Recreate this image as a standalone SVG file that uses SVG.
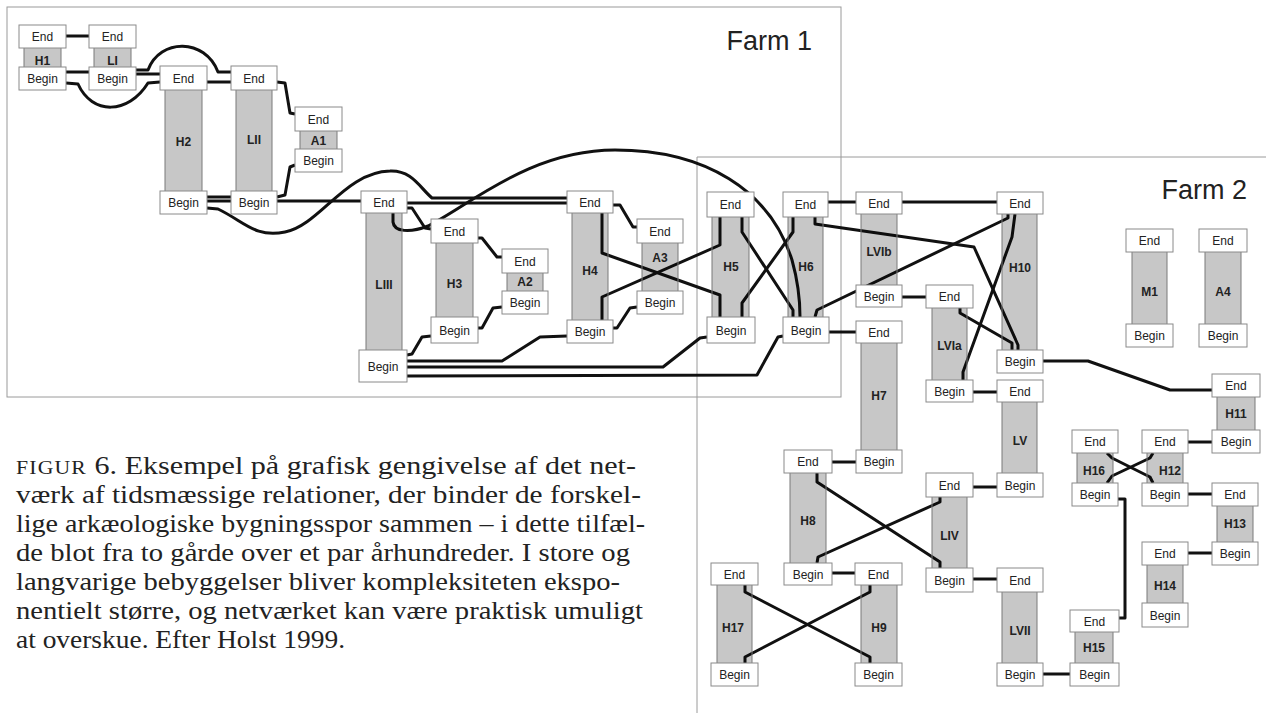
<svg xmlns="http://www.w3.org/2000/svg" width="1266" height="713" viewBox="0 0 1266 713">
<style>
.frame{fill:none;stroke:#9a9a9a;stroke-width:1}
.farm{font-family:"Liberation Sans",Arial,sans-serif;font-size:27px;fill:#222;text-anchor:end}
.bar{fill:#000;fill-opacity:.22;stroke:#7a7a7a;stroke-width:1}
.box{fill:#fff;stroke:#8a8a8a;stroke-width:1}
.ev{font-family:"Liberation Sans",Arial,sans-serif;font-size:12px;fill:#222;text-anchor:middle}
.lbl{font-family:"Liberation Sans",Arial,sans-serif;font-size:12px;font-weight:bold;fill:#222;text-anchor:middle}
.c{fill:none;stroke:#111;stroke-width:3;stroke-linejoin:round}
.cap{font-family:"Liberation Serif","Times New Roman",serif;font-size:25px;fill:#222}
.sc{font-size:18px;letter-spacing:1px}
</style>
<rect width="1266" height="713" fill="#fff"/>
<g id="frames">
<rect class="frame" x="7" y="7" width="834" height="390"/>
<path class="frame" d="M1266,157 H697 V713"/>
<text class="farm" x="812" y="50">Farm 1</text>
<text class="farm" x="1247" y="199">Farm 2</text>
</g>
<g id="connectors">
<path class="c" d="M66,36 H89"/>
<path class="c" d="M66,72 H89"/>
<path class="c" d="M66,83 L78,84 C92,115 128,115 148,83 L160,82"/>
<path class="c" d="M136,74 H160"/>
<path class="c" d="M136,70 L148,70 C160,38 205,38 218,72 L231,72"/>
<path class="c" d="M207,82 H231"/>
<path class="c" d="M277,82 L285,83 L290,113 L295,114"/>
<path class="c" d="M277,197 L285,195 L290,167 L295,165"/>
<path class="c" d="M207,197 H231"/>
<path class="c" d="M207,201 H361"/>
<path class="c" d="M207,208 L218,209 C245,222 255,238 285,232 C320,225 345,172 390,171 C412,170 420,188 432,198 L567,198"/>
<path class="c" d="M407,203 H567"/>
<path class="c" d="M407,208 L412,208 L425,228 L431,229"/>
<path class="c" d="M393,213 L393,222 C394,232 410,233 428,226 C470,205 530,150 615,150 C705,150 770,190 792,260 C799,285 800,305 800,317"/>
<path class="c" d="M478,238 L482,238 L497,257 L502,257"/>
<path class="c" d="M478,328 L482,328 L493,308 L502,307"/>
<path class="c" d="M407,355 L412,354 L422,337 L431,336"/>
<path class="c" d="M407,361 L502,361 L540,337 L567,336"/>
<path class="c" d="M407,367 L663,367 L700,338 L707,337"/>
<path class="c" d="M407,376 L757,375 L778,337 L783,336"/>
<path class="c" d="M613,205 L620,205 L633,227 L637,227"/>
<path class="c" d="M613,328 L617,328 L630,308 L637,307"/>
<path class="c" d="M602,213 V253 L720,295 V317"/>
<path class="c" d="M602,320 V297 L720,245 V217"/>
<path class="c" d="M742,217 V232 L793,310 V317"/>
<path class="c" d="M742,317 V303 L793,232 V217"/>
<path class="c" d="M828,202 H856"/>
<path class="c" d="M815,217 V224 L974,247 L1018,345 V350"/>
<path class="c" d="M815,317 L817,310 L1008,218 V214"/>
<path class="c" d="M828,332 H856"/>
<path class="c" d="M902,202 H997"/>
<path class="c" d="M902,297 H926"/>
<path class="c" d="M960,308 V313 L1012,343 V350"/>
<path class="c" d="M1015,214 L1012,237 L963,372 V380"/>
<path class="c" d="M973,392 H997"/>
<path class="c" d="M1043,361 H1088 L1170,390 H1212"/>
<path class="c" d="M832,462 H856"/>
<path class="c" d="M817,473 V482 L940,562 V568"/>
<path class="c" d="M817,563 L818,557 L940,502 V497"/>
<path class="c" d="M973,487 H997"/>
<path class="c" d="M832,573 H855"/>
<path class="c" d="M973,579 H997"/>
<path class="c" d="M745,585 V592 L870,657 V663"/>
<path class="c" d="M745,663 V657 L870,592 V585"/>
<path class="c" d="M1043,674 H1070"/>
<path class="c" d="M1118,499 H1125 V618 H1119"/>
<path class="c" d="M1107,453 L1112,458 L1150,477 L1153,483"/>
<path class="c" d="M1107,483 L1112,476 L1150,458 L1153,453"/>
<path class="c" d="M1188,442 H1212"/>
<path class="c" d="M1188,494 H1212"/>
<path class="c" d="M1188,553 H1212"/>
</g>
<g id="H1"><rect class="bar" x="24" y="47" width="37" height="21"/><rect class="box" x="19" y="25" width="47" height="23"/><text class="ev" x="42.5" y="41">End</text><rect class="box" x="19" y="67" width="47" height="23"/><text class="ev" x="42.5" y="83">Begin</text><text class="lbl" x="42.5" y="64.5">H1</text></g>
<g id="LI"><rect class="bar" x="94" y="47" width="37" height="21"/><rect class="box" x="89" y="25" width="47" height="23"/><text class="ev" x="112.5" y="41">End</text><rect class="box" x="89" y="67" width="47" height="23"/><text class="ev" x="112.5" y="83">Begin</text><text class="lbl" x="112.5" y="64.5">LI</text></g>
<g id="H2"><rect class="bar" x="165" y="89" width="37" height="103"/><rect class="box" x="160" y="66" width="47" height="24"/><text class="ev" x="183.5" y="82.5">End</text><rect class="box" x="160" y="191" width="47" height="23"/><text class="ev" x="183.5" y="207">Begin</text><text class="lbl" x="183.5" y="145.5">H2</text></g>
<g id="LII"><rect class="bar" x="236" y="89" width="36" height="103"/><rect class="box" x="231" y="66" width="46" height="24"/><text class="ev" x="254" y="82.5">End</text><rect class="box" x="231" y="191" width="46" height="23"/><text class="ev" x="254" y="207">Begin</text><text class="lbl" x="254" y="143.5">LII</text></g>
<g id="A1"><rect class="bar" x="300" y="130" width="37" height="20"/><rect class="box" x="295" y="107" width="47" height="24"/><text class="ev" x="318.5" y="123.5">End</text><rect class="box" x="295" y="149" width="47" height="23"/><text class="ev" x="318.5" y="165">Begin</text><text class="lbl" x="318.5" y="144.5">A1</text></g>
<g id="LIII"><rect class="bar" x="366" y="212" width="36" height="139"/><rect class="box" x="361" y="191" width="46" height="22"/><text class="ev" x="384" y="206.5">End</text><rect class="box" x="359" y="350" width="48" height="32"/><text class="ev" x="383" y="370.5">Begin</text><text class="lbl" x="384" y="288.5">LIII</text></g>
<g id="H3"><rect class="bar" x="436" y="242" width="37" height="76"/><rect class="box" x="431" y="219" width="47" height="24"/><text class="ev" x="454.5" y="235.5">End</text><rect class="box" x="431" y="317" width="47" height="26"/><text class="ev" x="454.5" y="334.5">Begin</text><text class="lbl" x="454.5" y="287.5">H3</text></g>
<g id="A2"><rect class="bar" x="507" y="272" width="36" height="20"/><rect class="box" x="502" y="249" width="46" height="24"/><text class="ev" x="525" y="265.5">End</text><rect class="box" x="502" y="291" width="46" height="23"/><text class="ev" x="525" y="307">Begin</text><text class="lbl" x="525" y="285.5">A2</text></g>
<g id="H4"><rect class="bar" x="572" y="212" width="36" height="109"/><rect class="box" x="567" y="191" width="46" height="22"/><text class="ev" x="590" y="206.5">End</text><rect class="box" x="567" y="320" width="46" height="23"/><text class="ev" x="590" y="336">Begin</text><text class="lbl" x="590" y="274.5">H4</text></g>
<g id="A3"><rect class="bar" x="642" y="242" width="36" height="50"/><rect class="box" x="637" y="219" width="46" height="24"/><text class="ev" x="660" y="235.5">End</text><rect class="box" x="637" y="291" width="46" height="23"/><text class="ev" x="660" y="307">Begin</text><text class="lbl" x="660" y="261.5">A3</text></g>
<g id="H5"><rect class="bar" x="712" y="216" width="37" height="102"/><rect class="box" x="707" y="192" width="47" height="25"/><text class="ev" x="730.5" y="209">End</text><rect class="box" x="707" y="317" width="48" height="26"/><text class="ev" x="731" y="334.5">Begin</text><text class="lbl" x="731" y="270.5">H5</text></g>
<g id="H6"><rect class="bar" x="788" y="216" width="35" height="102"/><rect class="box" x="783" y="192" width="45" height="25"/><text class="ev" x="805.5" y="209">End</text><rect class="box" x="783" y="317" width="46" height="26"/><text class="ev" x="806" y="334.5">Begin</text><text class="lbl" x="806" y="270.5">H6</text></g>
<g id="LVIb"><rect class="bar" x="861" y="213" width="36" height="73"/><rect class="box" x="856" y="192" width="46" height="22"/><text class="ev" x="879" y="207.5">End</text><rect class="box" x="856" y="285" width="46" height="22"/><text class="ev" x="879" y="300.5">Begin</text><text class="lbl" x="879" y="255.5">LVIb</text></g>
<g id="H7"><rect class="bar" x="861" y="342" width="36" height="109"/><rect class="box" x="856" y="321" width="46" height="22"/><text class="ev" x="879" y="336.5">End</text><rect class="box" x="856" y="450" width="46" height="23"/><text class="ev" x="879" y="466">Begin</text><text class="lbl" x="879" y="399.5">H7</text></g>
<g id="H10"><rect class="bar" x="1002" y="213" width="35" height="138"/><rect class="box" x="997" y="192" width="46" height="22"/><text class="ev" x="1020" y="207.5">End</text><rect class="box" x="997" y="350" width="46" height="23"/><text class="ev" x="1020" y="366">Begin</text><text class="lbl" x="1020" y="271.5">H10</text></g>
<g id="LVIa"><rect class="bar" x="932" y="307" width="35" height="74"/><rect class="box" x="926" y="285" width="47" height="23"/><text class="ev" x="949.5" y="301">End</text><rect class="box" x="926" y="380" width="47" height="22"/><text class="ev" x="949.5" y="395.5">Begin</text><text class="lbl" x="949.5" y="349.5">LVIa</text></g>
<g id="LV"><rect class="bar" x="1002" y="401" width="35" height="73"/><rect class="box" x="997" y="380" width="46" height="22"/><text class="ev" x="1020" y="395.5">End</text><rect class="box" x="997" y="473" width="46" height="24"/><text class="ev" x="1020" y="489.5">Begin</text><text class="lbl" x="1020" y="444.5">LV</text></g>
<g id="H8"><rect class="bar" x="790" y="472" width="36" height="92"/><rect class="box" x="784" y="450" width="48" height="23"/><text class="ev" x="808" y="466">End</text><rect class="box" x="784" y="563" width="48" height="22"/><text class="ev" x="808" y="578.5">Begin</text><text class="lbl" x="808" y="524.5">H8</text></g>
<g id="LIV"><rect class="bar" x="932" y="496" width="35" height="73"/><rect class="box" x="926" y="473" width="47" height="24"/><text class="ev" x="949.5" y="489.5">End</text><rect class="box" x="926" y="568" width="47" height="24"/><text class="ev" x="949.5" y="584.5">Begin</text><text class="lbl" x="949.5" y="539.5">LIV</text></g>
<g id="H9"><rect class="bar" x="861" y="584" width="36" height="80"/><rect class="box" x="855" y="563" width="47" height="22"/><text class="ev" x="878.5" y="578.5">End</text><rect class="box" x="855" y="663" width="47" height="23"/><text class="ev" x="878.5" y="679">Begin</text><text class="lbl" x="879" y="631.5">H9</text></g>
<g id="H17"><rect class="bar" x="717" y="584" width="35" height="80"/><rect class="box" x="711" y="563" width="47" height="22"/><text class="ev" x="734.5" y="578.5">End</text><rect class="box" x="711" y="663" width="47" height="23"/><text class="ev" x="734.5" y="679">Begin</text><text class="lbl" x="733" y="631.5">H17</text></g>
<g id="LVII"><rect class="bar" x="1002" y="591" width="35" height="73"/><rect class="box" x="997" y="568" width="46" height="24"/><text class="ev" x="1020" y="584.5">End</text><rect class="box" x="997" y="663" width="46" height="23"/><text class="ev" x="1020" y="679">Begin</text><text class="lbl" x="1020" y="634.5">LVII</text></g>
<g id="H15"><rect class="bar" x="1075" y="631" width="38" height="33"/><rect class="box" x="1070" y="610" width="49" height="22"/><text class="ev" x="1094.5" y="625.5">End</text><rect class="box" x="1070" y="663" width="49" height="23"/><text class="ev" x="1094.5" y="679">Begin</text><text class="lbl" x="1094" y="651.5">H15</text></g>
<g id="H16"><rect class="bar" x="1077" y="452" width="36" height="32"/><rect class="box" x="1072" y="430" width="46" height="23"/><text class="ev" x="1095" y="446">End</text><rect class="box" x="1072" y="483" width="46" height="23"/><text class="ev" x="1095" y="499">Begin</text><text class="lbl" x="1094" y="474.5">H16</text></g>
<g id="H12"><rect class="bar" x="1147" y="452" width="36" height="32"/><rect class="box" x="1142" y="430" width="46" height="23"/><text class="ev" x="1165" y="446">End</text><rect class="box" x="1142" y="483" width="46" height="23"/><text class="ev" x="1165" y="499">Begin</text><text class="lbl" x="1170" y="474.5">H12</text></g>
<g id="H11"><rect class="bar" x="1217" y="396" width="38" height="35"/><rect class="box" x="1212" y="374" width="48" height="23"/><text class="ev" x="1236" y="390">End</text><rect class="box" x="1212" y="430" width="48" height="23"/><text class="ev" x="1236" y="446">Begin</text><text class="lbl" x="1236" y="417.5">H11</text></g>
<g id="H13"><rect class="bar" x="1217" y="505" width="36" height="38"/><rect class="box" x="1212" y="483" width="46" height="23"/><text class="ev" x="1235" y="499">End</text><rect class="box" x="1212" y="542" width="46" height="23"/><text class="ev" x="1235" y="558">Begin</text><text class="lbl" x="1235" y="527.5">H13</text></g>
<g id="H14"><rect class="bar" x="1147" y="564" width="36" height="40"/><rect class="box" x="1142" y="542" width="46" height="23"/><text class="ev" x="1165" y="558">End</text><rect class="box" x="1142" y="603" width="46" height="24"/><text class="ev" x="1165" y="619.5">Begin</text><text class="lbl" x="1165" y="589.5">H14</text></g>
<g id="M1"><rect class="bar" x="1132" y="251" width="35" height="74"/><rect class="box" x="1126" y="229" width="47" height="23"/><text class="ev" x="1149.5" y="245">End</text><rect class="box" x="1126" y="324" width="47" height="23"/><text class="ev" x="1149.5" y="340">Begin</text><text class="lbl" x="1149.5" y="295.5">M1</text></g>
<g id="A4"><rect class="bar" x="1205" y="251" width="36" height="74"/><rect class="box" x="1199" y="229" width="48" height="23"/><text class="ev" x="1223" y="245">End</text><rect class="box" x="1199" y="324" width="48" height="23"/><text class="ev" x="1223" y="340">Begin</text><text class="lbl" x="1223" y="295.5">A4</text></g>
<g id="caption" class="cap">
<text x="16" y="474" textLength="620" lengthAdjust="spacingAndGlyphs"><tspan class="sc">FIGUR</tspan> 6. Eksempel på grafisk gengivelse af det net-</text>
<text x="16" y="503" textLength="625" lengthAdjust="spacingAndGlyphs">værk af tidsmæssige relationer, der binder de forskel-</text>
<text x="16" y="532" textLength="629" lengthAdjust="spacingAndGlyphs">lige arkæologiske bygningsspor sammen – i dette tilfæl-</text>
<text x="16" y="561" textLength="614" lengthAdjust="spacingAndGlyphs">de blot fra to gårde over et par århundreder. I store og</text>
<text x="16" y="590" textLength="604" lengthAdjust="spacingAndGlyphs">langvarige bebyggelser bliver kompleksiteten ekspo-</text>
<text x="16" y="619" textLength="627" lengthAdjust="spacingAndGlyphs">nentielt større, og netværket kan være praktisk umuligt</text>
<text x="16" y="648" textLength="329" lengthAdjust="spacingAndGlyphs">at overskue. Efter Holst 1999.</text>
</g>
</svg>
